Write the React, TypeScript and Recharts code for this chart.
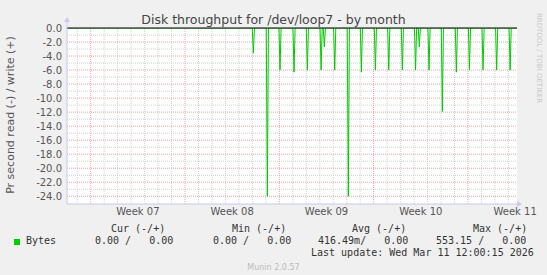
import { LineChart, Line, XAxis, YAxis, ReferenceLine, ReferenceArea, ReferenceDot } from 'recharts'

// read side (shown negative), days since left edge of the graph
const readDays = [
  0,
  13.75, 13.83, 13.91,
  14.79, 14.87, 14.95,
  15.73, 15.81, 15.89,
  16.77, 16.85, 16.93,
  17.76, 17.84, 17.92,
  18.78, 18.86, 18.94,
  19.02, 19.1, 19.18,
  19.79, 19.87, 19.95,
  20.8, 20.88, 20.96,
  21.77, 21.85, 21.93,
  22.81, 22.89, 22.97,
  23.8, 23.88, 23.96,
  24.81, 24.89, 24.97,
  25.79, 25.87, 25.95,
  26.07, 26.15, 26.23,
  26.79, 26.87, 26.95,
  27.78, 27.86, 27.94,
  28.82, 28.9, 28.98,
  29.79, 29.87, 29.95,
  30.8, 30.88, 30.96,
  31.81, 31.89, 31.97,
  32.81, 32.89, 32.97,
  33.4,
]
const readValues = [
  0,
  0, -3.6, 0,
  0, -24.0, 0,
  0, -6.0, 0,
  0, -6.3, 0,
  0, -6.0, 0,
  0, -6.0, 0,
  0, -2.7, 0,
  0, -6.0, 0,
  0, -24.0, 0,
  0, -6.3, 0,
  0, -6.0, 0,
  0, -6.0, 0,
  0, -6.0, 0,
  0, -6.0, 0,
  0, -2.7, 0,
  0, -6.0, 0,
  0, -11.9, 0,
  0, -6.3, 0,
  0, -6.0, 0,
  0, -6.0, 0,
  0, -6.0, 0,
  0, -6.0, 0,
  0,
]

const weekLabels = ['Week 07', 'Week 08', 'Week 09', 'Week 10', 'Week 11']
const weekLabelDays = [5.26, 12.26, 19.26, 26.26, 33.26]
const weekStartDays = [1.76, 8.76, 15.76, 22.76, 29.76]
const yTicks = [0, -2, -4, -6, -8, -10, -12, -14, -16, -18, -20, -22, -24]
const yMinor = [-1, -3, -5, -7, -9, -11, -13, -15, -17, -19, -21, -23]

const X_MAX = 33.4
const Y_MIN = -25.1

const data = readDays.map((t, i) => ({ t, read: readValues[i] }))

const dayLines: number[] = []
for (let d = 0.76; d < X_MAX; d += 1) {
  const r = Math.round(d * 100) / 100
  if (!weekStartDays.some((w) => Math.abs(w - r) < 0.01)) dayLines.push(r)
}

const AXIS = '#c8c8f0'
const MINOR = '#d0d0d0'
const MAJOR = '#f3a0a0'
const mono = '"DejaVu Sans Mono", monospace'

const text = (left: number, top: number, s: string, extra: React.CSSProperties = {}) => (
  <div
    style={{
      position: 'absolute',
      left,
      top,
      whiteSpace: 'pre',
      fontFamily: mono,
      fontSize: 10,
      lineHeight: '12px',
      color: '#333',
      ...extra,
    }}
  >
    {s}
  </div>
)

export default function App() {
  return (
    <div
      style={{
        position: 'absolute',
        left: 0,
        top: 0,
        width: 547,
        height: 275,
        background: '#f0f0f0',
        overflow: 'hidden',
        fontFamily: '"DejaVu Sans", sans-serif',
      }}
    >
      <div style={{ position: 'absolute', left: 0, top: 12, width: 547, textAlign: 'center', fontSize: 12.5, color: '#444' }}>
        Disk throughput for /dev/loop7 - by month
      </div>
      <div
        style={{
          position: 'absolute',
          left: 10,
          top: 115,
          transform: 'translate(-50%, -50%) rotate(-90deg)',
          whiteSpace: 'nowrap',
          fontSize: 11,
          color: '#555',
        }}
      >
        Pr second read (-) / write (+)
      </div>
      <div
        style={{
          position: 'absolute',
          left: 539,
          top: 58,
          transform: 'translate(-50%, -50%) rotate(90deg)',
          whiteSpace: 'nowrap',
          fontSize: 7,
          color: '#c8c8c8',
        }}
      >
        RRDTOOL / TOBI OETIKER
      </div>

      <LineChart width={547} height={275} data={data} margin={{ top: 28, right: 30, bottom: 41, left: 7 }} style={{ position: 'absolute', left: 0, top: 0 }}>
        <ReferenceArea x1={0} x2={X_MAX} y1={Y_MIN} y2={0} fill="#ffffff" fillOpacity={1} stroke="none" />
        {yMinor.map((v) => (
          <ReferenceLine key={`hm${v}`} y={v} stroke={MINOR} strokeDasharray="1 1" />
        ))}
        {dayLines.map((d) => (
          <ReferenceLine key={`vm${d}`} x={d} stroke={MINOR} strokeDasharray="1 1" />
        ))}
        {yTicks.slice(1).map((v) => (
          <ReferenceLine key={`hM${v}`} y={v} stroke={MAJOR} strokeDasharray="1 1" />
        ))}
        {weekStartDays.map((d) => (
          <ReferenceLine key={`vM${d}`} x={d} stroke={MAJOR} strokeDasharray="1 1" />
        ))}
        <XAxis
          dataKey="t"
          type="number"
          domain={[0, X_MAX]}
          ticks={weekLabelDays}
          tickFormatter={(v: number) => weekLabels[weekLabelDays.indexOf(v)] ?? ''}
          tickLine={false}
          axisLine={{ stroke: AXIS }}
          tick={{ fontSize: 10, fill: '#555' }}
          tickSize={4}
          tickMargin={0}
          height={30}
          interval={0}
          allowDataOverflow
        />
        <YAxis
          type="number"
          domain={[Y_MIN, 0]}
          ticks={yTicks}
          tickFormatter={(v: number) => v.toFixed(1)}
          tickLine={false}
          axisLine={{ stroke: AXIS }}
          tick={{ fontSize: 10, fill: '#555' }}
          tickSize={3}
          tickMargin={2}
          width={60}
          interval={0}
          allowDataOverflow
        />
        <Line type="linear" dataKey="read" stroke="#00cc00" strokeWidth={1} dot={false} isAnimationActive={false} />
        <ReferenceLine y={0} stroke="#000000" />
        <ReferenceDot
          x={0}
          y={0}
          ifOverflow="visible"
          shape={(p: any) => (
            <g>
              <line x1={p.cx} y1={p.cy} x2={p.cx} y2={p.cy - 6} stroke={AXIS} />
              <path d={`M${p.cx - 3},${p.cy - 6} L${p.cx + 3},${p.cy - 6} L${p.cx},${p.cy - 11} Z`} fill={AXIS} />
            </g>
          )}
        />
        <ReferenceDot
          x={X_MAX}
          y={Y_MIN}
          ifOverflow="visible"
          shape={(p: any) => (
            <g>
              <path d={`M${p.cx},${p.cy - 3} L${p.cx},${p.cy + 3} L${p.cx + 5},${p.cy} Z`} fill={AXIS} />
            </g>
          )}
        />
      </LineChart>

      {text(111, 223, 'Cur (-/+)')}
      {text(232, 223, 'Min (-/+)')}
      {text(352, 223, 'Avg (-/+)')}
      {text(473, 223, 'Max (-/+)')}
      <div style={{ position: 'absolute', left: 14, top: 239, width: 6, height: 6, background: '#00cc00' }} />
      {text(26, 235, 'Bytes')}
      {text(95, 235, '0.00 /   0.00')}
      {text(213, 235, '0.00 /   0.00')}
      {text(318, 235, '416.49m/   0.00')}
      {text(436, 235, '553.15 /   0.00')}
      {text(311, 247, 'Last update: Wed Mar 11 12:00:15 2026')}
      <div style={{ position: 'absolute', left: 0, top: 263, width: 547, textAlign: 'center', fontSize: 8, color: '#bbbbbb' }}>
        Munin 2.0.57
      </div>
    </div>
  )
}
